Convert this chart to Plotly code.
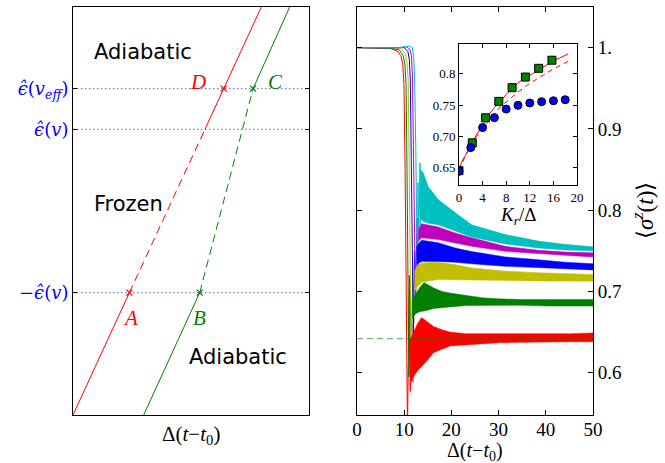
import plotly.graph_objects as go

# ---------------- Left panel (schematic) ----------------
lvl_labels = ["−<i>ϵ̂</i>(<i>v</i>)", "<i>ϵ̂</i>(<i>v</i>)", "<i>ϵ̂</i>(<i>v<sub>eff</sub></i>)"]
lvl_vals = [0.30, 0.70, 0.80]

red_x = [0.0, 0.239, 0.559, 0.6386, 0.798]
red_y = [0.0, 0.30, 0.70, 0.80, 1.0]
green_x = [0.2996, 0.537, 0.763, 0.918]
green_y = [0.0, 0.30, 0.80, 1.0]

# ---------------- Right panel (time evolution) ----------------
t_ticks = [0, 10, 20, 30, 40, 50]
s_ticks = [0.6, 0.7, 0.8, 0.9, 1.0]
s_ticktext = ["0.6", "0.7", "0.8", "0.9", "1."]
colors = ["#ff0000", "#008000", "#bfbf00", "#0000ff", "#bf00bf", "#00bfbf"]

drop_t = [
    [0, 7.0, 8.5, 9.3, 9.7, 9.95, 10.2, 10.7, 11.1, 11.3, 11.6, 11.9],
    [0, 7.5, 9.0, 9.8, 10.15, 10.4, 10.6, 11.0, 11.3, 11.6],
    [0, 8, 9.5, 10.3, 10.6, 10.85, 11.05, 11.5, 11.8, 12.1],
    [0, 8.5, 10, 10.8, 11.1, 11.3, 11.5, 11.95, 12.2, 12.5],
    [0, 9, 10.5, 11.2, 11.55, 11.75, 11.95, 12.4, 12.7, 13.0],
    [0, 9, 11, 11.7, 12.0, 12.2, 12.45, 12.8, 12.95, 13.1, 13.35, 13.5],
]
drop_y = [
    [1.0, 0.999, 0.996, 0.99, 0.98, 0.955, 0.85, 0.53, 0.72, 0.577, 0.66, 0.588],
    [1.0, 0.999, 0.997, 0.99, 0.98, 0.955, 0.85, 0.595, 0.70, 0.62],
    [1.0, 1.0, 0.998, 0.992, 0.982, 0.96, 0.86, 0.625, 0.73, 0.66],
    [1.0, 1.0, 1.0, 0.995, 0.985, 0.96, 0.87, 0.645, 0.75, 0.69],
    [1.0, 1.0, 1.001, 0.998, 0.99, 0.965, 0.88, 0.69, 0.79, 0.73],
    [1.0, 1.0, 1.002, 1.0, 0.99, 0.965, 0.88, 0.72, 0.834, 0.75, 0.858, 0.78],
]
band_t = [
    [11.2, 12.0, 12.8, 13.7, 15.0, 16.2, 18, 19.7, 23, 27, 30, 35, 40, 45, 50],
    [11.7, 12.5, 13.3, 14.2, 15, 16.2, 18, 19.7, 23.2, 27, 30, 35, 40, 45, 50],
    [12.2, 13.0, 13.7, 17.2, 20.8, 24.3, 31.4, 38.4, 50],
    [12.6, 13.7, 17.2, 20.8, 24.3, 31.4, 38.4, 44, 50],
    [13.0, 13.7, 17.2, 20.8, 24.3, 31.4, 38.4, 44, 50],
    [13.4, 14.05, 15.1, 17.2, 20.8, 24.3, 31.4, 38.4, 44, 50],
]
band_hi = [
    [0.64, 0.650, 0.660, 0.668, 0.662, 0.657, 0.653, 0.650, 0.648, 0.648, 0.6475, 0.648, 0.648, 0.648, 0.649],
    [0.69, 0.698, 0.705, 0.711, 0.708, 0.7044, 0.70, 0.698, 0.695, 0.692, 0.691, 0.690, 0.690, 0.690, 0.690],
    [0.726, 0.732, 0.735, 0.736, 0.733, 0.729, 0.725, 0.723, 0.7208],
    [0.755, 0.763, 0.760, 0.7535, 0.749, 0.7425, 0.739, 0.736, 0.734],
    [0.776, 0.7834, 0.7794, 0.772, 0.766, 0.7555, 0.7506, 0.7485, 0.7475],
    [0.850, 0.846, 0.829, 0.813, 0.797, 0.782, 0.770, 0.762, 0.758, 0.755],
]
band_lo = [
    [0.585, 0.595, 0.602, 0.607, 0.616, 0.6246, 0.629, 0.633, 0.635, 0.636, 0.637, 0.6375, 0.638, 0.638, 0.638],
    [0.667, 0.673, 0.675, 0.676, 0.677, 0.679, 0.680, 0.681, 0.6827, 0.683, 0.683, 0.683, 0.682, 0.682, 0.682],
    [0.700, 0.707, 0.7115, 0.7146, 0.7146, 0.714, 0.7134, 0.713, 0.7126],
    [0.733, 0.737, 0.737, 0.736, 0.734, 0.731, 0.729, 0.728, 0.7265],
    [0.762, 0.766, 0.7638, 0.7597, 0.7555, 0.7494, 0.7466, 0.7445, 0.7425],
    [0.790, 0.786, 0.784, 0.782, 0.774, 0.767, 0.7585, 0.7535, 0.751, 0.750],
]
ref_level = 0.642

# ---------------- Inset ----------------
ins_sq_x = [0, 2.25, 4.5, 6.75, 9.0, 11.25, 13.5, 15.75]
ins_sq_y = [0.645, 0.6896, 0.7297, 0.756, 0.778, 0.795, 0.809, 0.822]
ins_ci_x = [0, 2, 4, 6, 8, 10, 12, 14, 16, 18]
ins_ci_y = [0.644, 0.682, 0.714, 0.730, 0.7437, 0.7497, 0.7534, 0.7555, 0.757, 0.7587]
ins_sol_x = [0, 0.5, 1, 2, 3, 4, 5, 6, 7, 8, 10, 12, 14, 16, 18.5]
ins_sol_y = [0.648, 0.66, 0.668, 0.686, 0.703, 0.718, 0.734, 0.746, 0.757, 0.767, 0.786, 0.798, 0.810, 0.821, 0.832]
ins_das_x = [0, 1, 2, 3, 4, 5, 6, 7, 8, 9, 10, 12, 14, 16, 18.5]
ins_das_y = [0.646, 0.667, 0.684, 0.700, 0.713, 0.726, 0.737, 0.747, 0.755, 0.763, 0.771, 0.785, 0.797, 0.808, 0.820]
ins_xticks = [0, 4, 8, 12, 16, 20]
ins_yticks = [0.65, 0.70, 0.75, 0.80]
ins_yticktext = ["0.65", "0.70", "0.75", "0.8"]

fig = go.Figure()

# Left panel
for v in lvl_vals:
    fig.add_trace(go.Scatter(x=[0, 1], y=[v, v], mode="lines", xaxis="x", yaxis="y",
                             line=dict(color="rgba(60,60,255,0.7)", width=1.2, dash="1.5px,2.5px"),
                             showlegend=False, hoverinfo="skip"))
fig.add_trace(go.Scatter(x=red_x[0:2], y=red_y[0:2], mode="lines", xaxis="x", yaxis="y",
                         line=dict(color="#ff0000", width=1), showlegend=False))
fig.add_trace(go.Scatter(x=red_x[1:3], y=red_y[1:3], mode="lines", xaxis="x", yaxis="y",
                         line=dict(color="#ff0000", width=1, dash="8px,5px"), showlegend=False))
fig.add_trace(go.Scatter(x=red_x[2:5], y=red_y[2:5], mode="lines", xaxis="x", yaxis="y",
                         line=dict(color="#ff0000", width=1), showlegend=False))
fig.add_trace(go.Scatter(x=[red_x[1], red_x[3]], y=[red_y[1], red_y[3]], mode="markers", xaxis="x", yaxis="y",
                         marker=dict(symbol="x-thin", size=6, line=dict(color="#ff0000", width=1.2)),
                         showlegend=False))
fig.add_trace(go.Scatter(x=green_x[0:2], y=green_y[0:2], mode="lines", xaxis="x", yaxis="y",
                         line=dict(color="#008000", width=1), showlegend=False))
fig.add_trace(go.Scatter(x=green_x[1:3], y=green_y[1:3], mode="lines", xaxis="x", yaxis="y",
                         line=dict(color="#008000", width=1, dash="8px,5px"), showlegend=False))
fig.add_trace(go.Scatter(x=green_x[2:4], y=green_y[2:4], mode="lines", xaxis="x", yaxis="y",
                         line=dict(color="#008000", width=1), showlegend=False))
fig.add_trace(go.Scatter(x=[green_x[1], green_x[2]], y=[green_y[1], green_y[2]], mode="markers", xaxis="x", yaxis="y",
                         marker=dict(symbol="x-thin", size=6, line=dict(color="#008000", width=1.2)),
                         showlegend=False))

# Right panel
for i, c in enumerate(colors):
    fig.add_trace(go.Scatter(x=drop_t[i], y=drop_y[i], mode="lines", xaxis="x2", yaxis="y2",
                             line=dict(color=c, width=1), showlegend=False))
for i, c in enumerate(colors):
    bx = band_t[i] + band_t[i][::-1]
    by = band_hi[i] + band_lo[i][::-1]
    fig.add_trace(go.Scatter(x=bx, y=by, mode="lines", fill="toself", fillcolor=c,
                             xaxis="x2", yaxis="y2", line=dict(color=c, width=0.5),
                             showlegend=False))
fig.add_trace(go.Scatter(x=[0, 50], y=[ref_level, ref_level], mode="lines", xaxis="x2", yaxis="y2",
                         line=dict(color="rgba(0,128,0,0.55)", width=1.2, dash="6px,4px"),
                         showlegend=False))

# Inset
fig.add_trace(go.Scatter(x=ins_sol_x, y=ins_sol_y, mode="lines", xaxis="x3", yaxis="y3",
                         line=dict(color="#ff0000", width=1), showlegend=False))
fig.add_trace(go.Scatter(x=ins_das_x, y=ins_das_y, mode="lines", xaxis="x3", yaxis="y3",
                         line=dict(color="#ff0000", width=1, dash="5px,4px"), showlegend=False))
fig.add_trace(go.Scatter(x=ins_sq_x, y=ins_sq_y, mode="markers", xaxis="x3", yaxis="y3",
                         marker=dict(symbol="square", size=8, color="#008000",
                                     line=dict(color="black", width=1)), showlegend=False))
fig.add_trace(go.Scatter(x=ins_ci_x, y=ins_ci_y, mode="markers", xaxis="x3", yaxis="y3",
                         marker=dict(symbol="circle", size=8, color="#0000ff",
                                     line=dict(color="black", width=1)), showlegend=False))

serif = "Liberation Serif"
axis_common = dict(showline=True, linecolor="black", linewidth=1, mirror="ticks",
                   showgrid=False, zeroline=False, ticks="inside", tickcolor="black",
                   automargin=False)

fig.update_layout(
    width=665, height=463, margin=dict(l=0, r=0, t=0, b=0, autoexpand=False),
    paper_bgcolor="white", plot_bgcolor="rgba(0,0,0,0)",
    xaxis=dict(domain=[0.1098, 0.4647], range=[0, 1], showticklabels=False, ticks="",
               showline=True, linecolor="black", linewidth=1, mirror=True, showgrid=False,
               zeroline=False, anchor="y", automargin=False),
    yaxis=dict(domain=[0.1037, 0.9849], range=[0, 1], tickvals=lvl_vals, ticktext=lvl_labels,
               tickfont=dict(family="DejaVu Serif", size=18, color="#0000ff"), ticklen=4, anchor="x",
               **axis_common),
    xaxis2=dict(domain=[0.5368, 0.8917], range=[0, 50], tickvals=t_ticks, anchor="y2",
                tickfont=dict(family=serif, size=19, color="black"), ticklen=5,
                ticklabelstandoff=-3,
                **axis_common),
    yaxis2=dict(domain=[0.1037, 0.9849], range=[0.548, 1.05], tickvals=s_ticks, ticktext=s_ticktext,
                side="right", anchor="x2", ticklen=5,
                tickfont=dict(family=serif, size=19, color="black"),
                **axis_common),
    xaxis3=dict(domain=[0.6902, 0.8677], range=[0, 20], tickvals=ins_xticks, anchor="y3",
                tickfont=dict(family=serif, size=13, color="black"), ticklen=4,
                **axis_common),
    yaxis3=dict(domain=[0.6004, 0.905], range=[0.622, 0.848], tickvals=ins_yticks, ticktext=ins_yticktext,
                anchor="x3", ticklen=4, tickfont=dict(family=serif, size=13, color="black"),
                **axis_common),
)

sans = "DejaVu Sans"
ann = [
    dict(x=0.082, y=0.890, text="Adiabatic", xanchor="left", font=dict(family=sans, size=21, color="black")),
    dict(x=0.082, y=0.517, text="Frozen", xanchor="left", font=dict(family=sans, size=21, color="black")),
    dict(x=0.484, y=0.142, text="Adiabatic", xanchor="left", font=dict(family=sans, size=21, color="black")),
    dict(x=0.2415, y=0.238, text="<i>A</i>", font=dict(family=serif, size=21, color="#ff0000")),
    dict(x=0.538, y=0.238, text="<i>B</i>", font=dict(family=serif, size=21, color="#008000")),
    dict(x=0.53, y=0.816, text="<i>D</i>", font=dict(family=serif, size=21, color="#ff0000")),
    dict(x=0.856, y=0.816, text="<i>C</i>", font=dict(family=serif, size=21, color="#008000")),
]
for a in ann:
    a.update(xref="x", yref="y", showarrow=False, yanchor="middle")
    fig.add_annotation(**a)

# axis titles as paper annotations
titles = [
    dict(x=191 / 665, y=1 - 435 / 463, text="Δ(<i>t</i>−<i>t</i><sub>0</sub>)", textangle=0, size=21),
    dict(x=475 / 665, y=1 - 451 / 463, text="Δ(<i>t</i>−<i>t</i><sub>0</sub>)", textangle=0, size=20),
    dict(x=643 / 665, y=1 - 211 / 463, text="⟨<i>σ</i><sup><i>z</i></sup>(<i>t</i>)⟩", textangle=-90, size=23),
    dict(x=518 / 665, y=1 - 216 / 463, text="<i>K<sub>r</sub></i>/Δ", textangle=0, size=19),
]
for a in titles:
    sz = a.pop("size")
    fig.add_annotation(xref="paper", yref="paper", showarrow=False, xanchor="center", yanchor="middle",
                       font=dict(family=serif, size=sz, color="black"), **a)

fig.write_html("out.html")
